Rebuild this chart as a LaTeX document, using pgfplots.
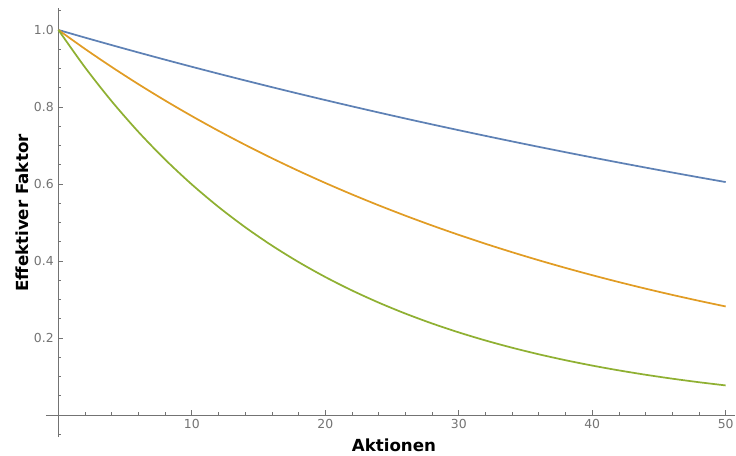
\documentclass[border=0pt]{standalone}
\usepackage{pgfplots}
\pgfplotsset{compat=1.18}
\usepackage{fontspec}
\setmainfont{DejaVu Sans}
\definecolor{mblue}{rgb}{0.368417,0.506779,0.709798}
\definecolor{morange}{rgb}{0.880722,0.611041,0.142051}
\definecolor{mgreen}{rgb}{0.560181,0.691569,0.194885}
\definecolor{axgray}{rgb}{0.45,0.45,0.45}
\begin{document}
\begin{tikzpicture}
\begin{axis}[
  at={(0,0)}, anchor=south west,
  scale only axis,
  width=516.75pt, height=321.75pt,
  axis lines=middle,
  axis line style={-, axgray, line width=0.75pt},
  xmin=-0.93, xmax=50.7, ymin=-0.057, ymax=1.057,
  xtick={10,20,30,40,50},
  minor xtick={2,4,6,8,12,14,16,18,22,24,26,28,32,34,36,38,42,44,46,48},
  ytick={0.2,0.4,0.6,0.8,1.0},
  minor ytick={-0.05,0.05,0.1,0.15,0.25,0.3,0.35,0.45,0.5,0.55,0.65,0.7,0.75,0.85,0.9,0.95,1.05},
  yticklabels={0.2,0.4,0.6,0.8,1.0},
  tick align=inside,
  major tick length=3.75pt,
  minor tick length=2.25pt,
  every tick/.style={axgray, line width=0.6pt},
  tick label style={font=\fontsize{9.3}{11}\selectfont, text=axgray},
  /pgf/number format/assume math mode=true,
  xlabel={\textbf{Aktionen}},
  ylabel={\textbf{Effektiver Faktor}},
  label style={font=\fontsize{12.5}{14}\selectfont},
  xlabel style={at={(axis description cs:0.505,0)}, anchor=north, yshift=2.2pt},
  ylabel style={at={(axis description cs:-0.034,0.522)}, anchor=center, rotate=90},
  clip=false,
  every axis plot/.append style={line width=1.3pt, smooth},
]
\addplot[mblue] coordinates {
(0,1) (2,0.9801) (4,0.960596) (6,0.941480) (8,0.922745) (10,0.904382) (12,0.886385) (14,0.868746) (16,0.851458) (18,0.834514) (20,0.817907) (22,0.801631) (24,0.785678) (26,0.770043) (28,0.754719) (30,0.739701) (32,0.724981) (34,0.710554) (36,0.696414) (38,0.682555) (40,0.668972) (42,0.655660) (44,0.642612) (46,0.629824) (48,0.617291) (50,0.605006)
};
\addplot[morange] coordinates {
(0,1) (2,0.950625) (4,0.903688) (6,0.859068) (8,0.816652) (10,0.776330) (12,0.737999) (14,0.701560) (16,0.666920) (18,0.633991) (20,0.602687) (22,0.572930) (24,0.544642) (26,0.517750) (28,0.492187) (30,0.467886) (32,0.444784) (34,0.422823) (36,0.401946) (38,0.382100) (40,0.363234) (42,0.345299) (44,0.328250) (46,0.312043) (48,0.296636) (50,0.281989)
};
\addplot[mgreen] coordinates {
(0,1) (2,0.9025) (4,0.814506) (6,0.735092) (8,0.663421) (10,0.598737) (12,0.540360) (14,0.487675) (16,0.440127) (18,0.397215) (20,0.358486) (22,0.323534) (24,0.291989) (26,0.263520) (28,0.237827) (30,0.214639) (32,0.193712) (34,0.174825) (36,0.157780) (38,0.142396) (40,0.128512) (42,0.115982) (44,0.104674) (46,0.094468) (48,0.085257) (50,0.076944)
};
\end{axis}
\pgfresetboundingbox
\useasboundingbox (-34.5pt,-13.5pt) rectangle (517.5pt,327.75pt);
\end{tikzpicture}
\end{document}
